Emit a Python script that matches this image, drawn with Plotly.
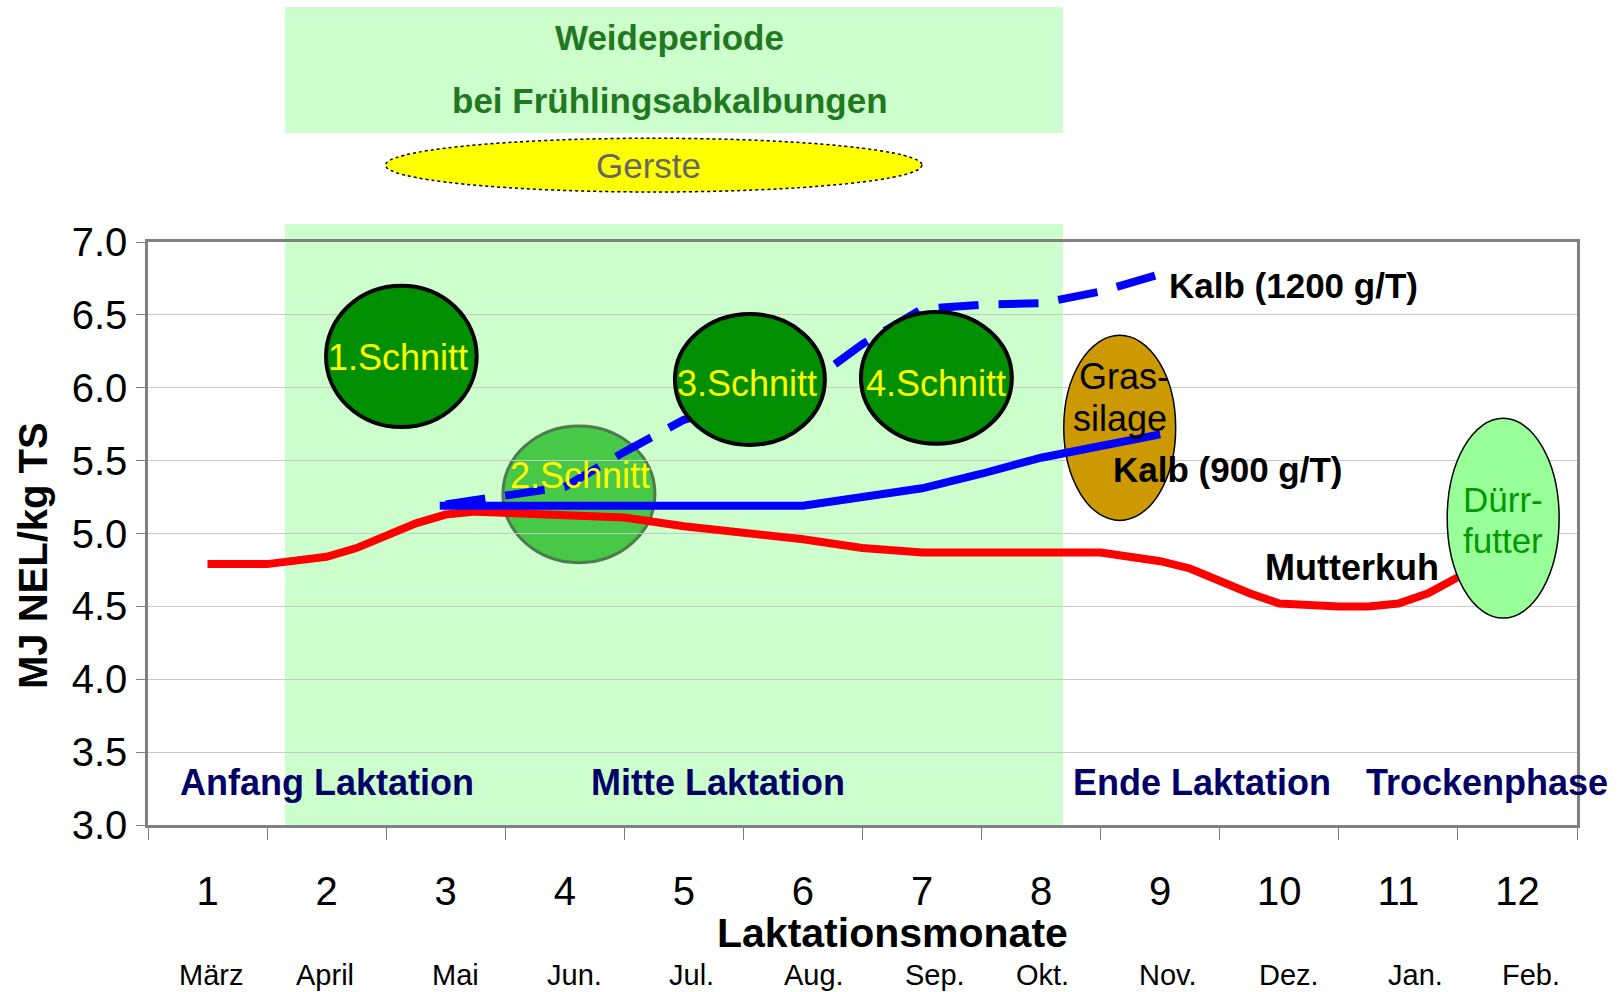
import plotly.graph_objects as go

# Laktationsmonate und Kalendermonate (Frühlingsabkalbung)
months = list(range(1, 13))
month_names = ["März", "April", "Mai", "Jun.", "Jul.", "Aug.", "Sep.", "Okt.",
               "Nov.", "Dez.", "Jan.", "Feb."]

# Energiebedarf MJ NEL/kg TS
mutterkuh_x = [1, 1.5, 2, 2.25, 2.75, 3, 3.25, 4, 4.5, 5, 6, 6.5, 7, 8, 8.5,
               9, 9.25, 9.75, 10, 10.5, 10.75, 11, 11.25, 11.5, 11.75]
mutterkuh_y = [4.79, 4.79, 4.84, 4.90, 5.07, 5.13, 5.15, 5.13, 5.11, 5.05, 4.96,
               4.90, 4.87, 4.87, 4.87, 4.81, 4.76, 4.59, 4.52, 4.50, 4.50, 4.52,
               4.59, 4.70, 4.85]

kalb900_x = [2.95, 4, 5, 6, 6.5, 7, 7.5, 8, 8.5, 9]
kalb900_y = [5.19, 5.19, 5.19, 5.19, 5.25, 5.31, 5.41, 5.52, 5.60, 5.68]

kalb1200_x = [3, 3.5, 4, 4.5, 5, 5.5, 6, 6.5, 7, 7.5, 8, 8.5, 9]
kalb1200_y = [5.20, 5.26, 5.32, 5.56, 5.78, 5.90, 6.00, 6.30, 6.54, 6.57, 6.58,
              6.66, 6.78]

phases = ["Anfang Laktation", "Mitte Laktation", "Ende Laktation", "Trockenphase"]
phase_x = [2.0, 5.29, 9.35, 11.74]

FONT = "Liberation Sans, Arial, sans-serif"

fig = go.Figure()

fig.add_trace(go.Scatter(x=mutterkuh_x, y=mutterkuh_y, mode="lines",
                         line=dict(color="#FF0000", width=8), name="Mutterkuh"))
fig.add_trace(go.Scatter(x=kalb900_x, y=kalb900_y, mode="lines",
                         line=dict(color="#0000FF", width=8), name="Kalb (900 g/T)"))
fig.add_trace(go.Scatter(x=kalb1200_x, y=kalb1200_y, mode="lines",
                         line=dict(color="#0000FF", width=8, dash="40px,20px"),
                         name="Kalb (1200 g/T)"))

shapes = []
# Weideperiode hinterlegt
shapes.append(dict(type="rect", xref="paper", yref="paper", x0=0.0959, x1=0.6403,
                   y0=0, y1=1.031, fillcolor="#CCFFCC", line_width=0, layer="below"))
shapes.append(dict(type="rect", xref="paper", yref="paper", x0=0.0959, x1=0.6403,
                   y0=1.187, y1=1.403, fillcolor="#CCFFCC", line_width=0, layer="above"))
# Gerste
shapes.append(dict(type="circle", xref="paper", yref="paper", x0=0.1662, x1=0.5416,
                   y0=1.0858, y1=1.178, fillcolor="#FFFF00",
                   line=dict(color="black", width=1.5, dash="dot"), layer="above"))
# 2. Schnitt (hinter den Linien)
shapes.append(dict(type="circle", xref="x", yref="y", x0=3.48, x1=4.757, y0=4.80, y1=5.738,
                   fillcolor="#47C847", line=dict(color="#4F7A4F", width=3), layer="below"))
# Grassilage
shapes.append(dict(type="circle", xref="x", yref="y", x0=8.19, x1=9.13, y0=5.09, y1=6.36,
                   fillcolor="#CC9900", line=dict(color="black", width=1.5), layer="between"))
# 1., 3., 4. Schnitt
for x0, x1, y0, y1 in [(1.995, 3.26, 5.73, 6.70), (4.925, 6.184, 5.608, 6.506),
                       (6.487, 7.754, 5.615, 6.52)]:
    shapes.append(dict(type="circle", xref="x", yref="y", x0=x0, x1=x1, y0=y0, y1=y1,
                       fillcolor="#008F00", line=dict(color="black", width=4), layer="above"))
# Dürrfutter
shapes.append(dict(type="circle", xref="x", yref="y", x0=11.41, x1=12.35, y0=4.42, y1=5.79,
                   fillcolor="#99FF99", line=dict(color="black", width=1.5), layer="above"))

ann = []


def txt(text, x, y, size, color="black", bold=False, xref="x", yref="y", xanchor="center", angle=0):
    if bold:
        text = "<b>" + text + "</b>"
    ann.append(dict(text=text, x=x, y=y, xref=xref, yref=yref, showarrow=False,
                    xanchor=xanchor, yanchor="middle", textangle=angle,
                    font=dict(family=FONT, size=size, color=color)))


txt("Weideperiode", 0.365, 1.35, 35, "#217821", True, "paper", "paper")
txt("bei Frühlingsabkalbungen", 0.365, 1.242, 35, "#217821", True, "paper", "paper")
txt("Gerste", 0.35, 1.132, 35, "#666666", False, "paper", "paper")

txt("1.Schnitt", 2.60, 6.21, 36, "#FFFF00")
txt("2.Schnitt", 4.13, 5.40, 36, "#FFFF00")
txt("3.Schnitt", 5.53, 6.03, 36, "#FFFF00")
txt("4.Schnitt", 7.12, 6.03, 36, "#FFFF00")
txt("Gras-", 8.70, 6.08, 36)
txt("silage", 8.66, 5.79, 36)
txt("Dürr-", 11.88, 5.23, 35, "#009900")
txt("futter", 11.88, 4.955, 35, "#009900")

txt("Kalb (1200 g/T)", 9.06, 6.705, 35, bold=True, xanchor="left")
txt("Kalb (900 g/T)", 8.59, 5.436, 35, bold=True, xanchor="left")
txt("Mutterkuh", 9.86, 4.764, 36, bold=True, xanchor="left")

for name, x in zip(phases, phase_x):
    txt(name, x, 3.29, 36, "#000066", True)

# month names sit slightly right of the month number, drifting a bit further right
month_shift = [0.03, -0.01, 0.08, 0.08, 0.06, 0.09, 0.11, 0.01, 0.06, 0.08, 0.14, 0.11]
for m, name, dx in zip(months, month_names, month_shift):
    txt(name, m + dx, -0.257, 29, yref="paper")

txt("Laktationsmonate", 0.521, -0.186, 41, bold=True, xref="paper", yref="paper")
txt("MJ NEL/kg TS", -0.0805, 0.463, 40, bold=True, xref="paper", yref="paper", angle=-90)

fig.update_layout(
    width=1623, height=992,
    margin=dict(l=148, r=46, t=242, b=167),
    plot_bgcolor="white", paper_bgcolor="white",
    showlegend=False,
    shapes=shapes, annotations=ann,
    font=dict(family=FONT, color="black"),
)
fig.update_xaxes(range=[0.5, 12.5], tickvals=months, ticktext=[str(m) for m in months],
                 ticks="", ticklabelstandoff=29, tickfont=dict(size=40),
                 showgrid=False, zeroline=False,
                 showline=True, linecolor="#808080", linewidth=2.5, mirror=True,
                 minor=dict(ticks="outside", ticklen=12, tickcolor="#808080", tickwidth=1,
                            tick0=0.5, dtick=1, showgrid=False))
fig.update_yaxes(range=[3, 7], dtick=0.5, tickformat=".1f", tickfont=dict(size=40),
                 ticks="outside", ticklen=9, tickcolor="#808080", ticklabelstandoff=1,
                 showgrid=True, gridcolor="#C8C8C8", gridwidth=1, zeroline=False,
                 showline=True, linecolor="#808080", linewidth=2.5, mirror=True)

fig.write_html("out.html", config={"displayModeBar": False},
               post_script="document.body.style.margin='0';")
